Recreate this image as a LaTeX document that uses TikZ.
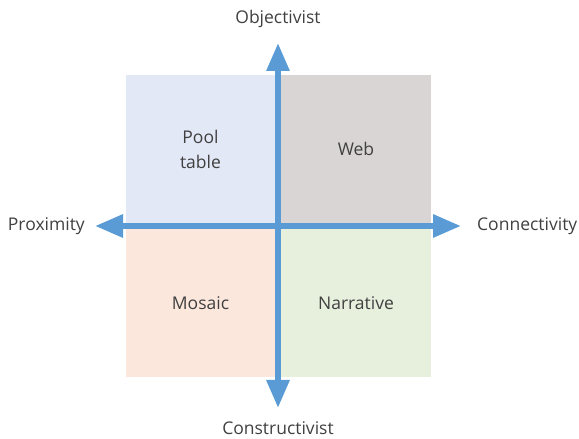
\documentclass[tikz,border=0pt]{standalone}
\usepackage{fontspec}
\setmainfont{Open Sans}
\usepackage{tikz}
\usetikzlibrary{arrows.meta}

\definecolor{axisblue}{HTML}{5B9BD5}
\definecolor{txtgray}{HTML}{404040}
\definecolor{poolbg}{HTML}{E2E8F6}
\definecolor{webbg}{HTML}{D9D5D5}
\definecolor{mosaicbg}{HTML}{FCE7DD}
\definecolor{narrbg}{HTML}{E7F0DD}

\begin{document}
\begin{tikzpicture}[x=1pt,y=1pt,
  quad/.style={minimum width=150pt,minimum height=148pt,inner sep=0pt,text=txtgray,
    font=\fontsize{17.5}{25}\selectfont,align=center},
  axlabel/.style={text=txtgray,font=\fontsize{17.5}{24}\selectfont,inner sep=0pt},
  axis/.style={axisblue,line width=6pt,{Triangle[length=28pt,width=22pt]}-{Triangle[length=28pt,width=22pt]}}]
\useasboundingbox (0,0) rectangle (579,439);
% quadrants
\node [quad,fill=poolbg,minimum width=149pt] (pool) at (200.5,290) {Pool\\table};
\node [quad,fill=webbg] (web) at (356,290) {Web};
\node [quad,fill=mosaicbg,minimum width=149pt] (mosaic) at (200.5,136) {Mosaic};
\node [quad,fill=narrbg] (narr) at (356,136) {Narrative};
% axes
\coordinate (west) at (95,213); \coordinate (east) at (461,213);
\coordinate (north) at (278,396); \coordinate (south) at (278,31);
\draw[axis] (west) -- (east);
\draw[axis] (south) -- (north);
\node [axlabel,anchor=east] (prox) at (85,213) {Proximity};
\node [axlabel,anchor=west] (conn) at (477,213) {Connectivity};
\node [axlabel] (obj) at (278,420) {Objectivist};
\node [axlabel] (cons) at (278,10.5) {Constructivist};
\end{tikzpicture}
\end{document}
